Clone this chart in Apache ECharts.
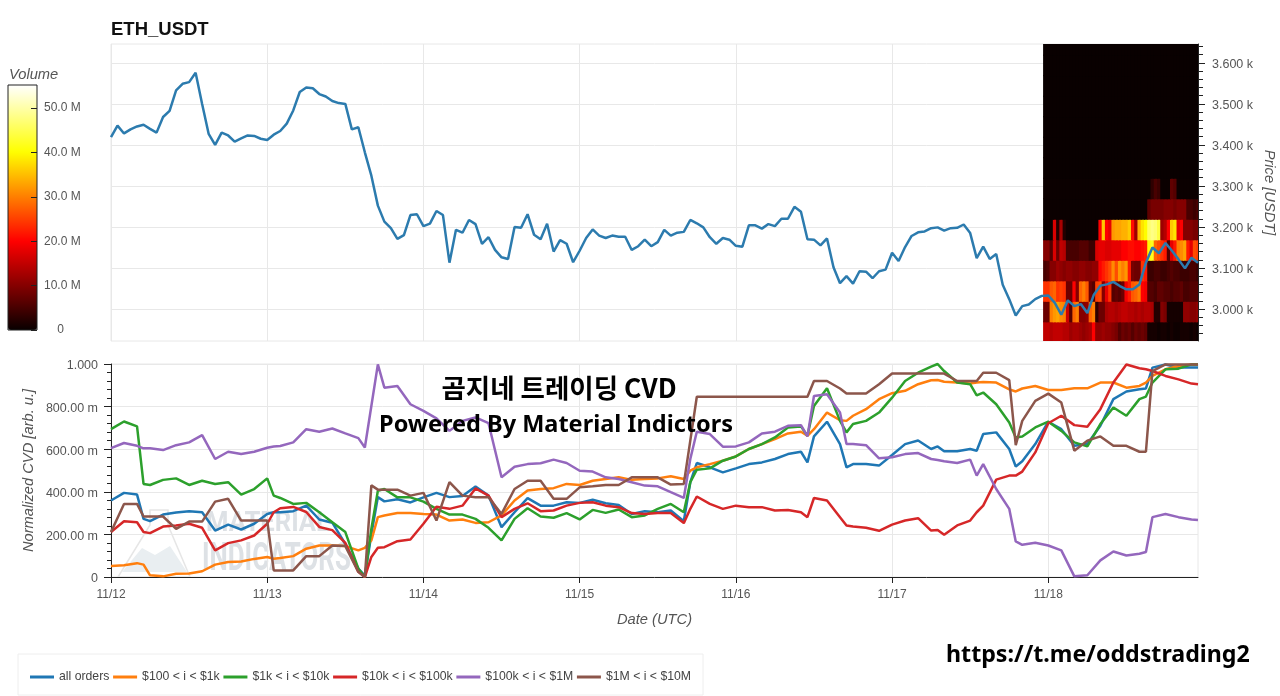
<!DOCTYPE html>
<html><head><meta charset="utf-8">
<style>html,body{margin:0;padding:0;background:#fff}#c{width:1280px;height:696px}</style>
<script src="https://cdn.jsdelivr.net/npm/echarts@6/dist/echarts.min.js"></script>
</head><body><div id="c"></div>
<script>
const dayLabels = ['11/12','11/13','11/14','11/15','11/16','11/17','11/18'];
const dayTicks = [0,24,48,72,96,120,144];
const priceMajor = [3000,3100,3200,3300,3400,3500,3600];
const priceMinor = [2940,2960,2980,3020,3040,3060,3080,3120,3140,3160,3180,3220,3240,3260,3280,3320,3340,3360,3380,3420,3440,3460,3480,3520,3540,3560,3580,3620,3640];
const volumeTicks = [0,10,20,30,40,50];
const hotColors = ['#080000','#480000','#850000','#c20000','#ff0000','#ff4000','#ff8000','#ffbf00','#ffff00','#ffff55','#ffffaa','#ffffff'];
const lineColors = ['#1f77b4','#ff7f0e','#2ca02c','#d62728','#9467bd','#8c564b'];
const seriesNames = ['all orders','$100 < i < $1k','$1k < i < $10k','$10k < i < $100k','$100k < i < $1M','$1M < i < $10M'];

// hourly price, from 11/12 00:00
const price = [
3419,3447,3428,3438,3445,3449,3439,3430,3468,3483,3533,3549,3553,3576,3500,3427,3400,3430,3423,3408,3416,3423,3422,3415,
3412,3425,3434,3452,3484,3529,3540,3538,3524,3518,3507,3502,3500,3438,3443,3382,3325,3252,3213,3197,3171,3180,3229,3231,
3202,3208,3239,3229,3113,3193,3186,3217,3207,3159,3175,3144,3126,3122,3200,3198,3231,3181,3170,3208,3140,3168,3159,3114,
3142,3173,3194,3179,3173,3179,3176,3176,3144,3153,3169,3153,3163,3193,3179,3186,3188,3217,3209,3199,3175,3159,3173,3169,
3154,3152,3204,3204,3196,3207,3202,3220,3220,3249,3237,3170,3169,3155,3172,3102,3063,3080,3062,3092,3091,3075,3092,3096,
3137,3117,3151,3178,3187,3189,3197,3199,3191,3197,3198,3206,3185,3124,3152,3122,3134,3059,3024,2984,3007,3011,3024,3032,
3033,3015,2986,3021,3007,3012,2990,3035,3057,3060,3066,3056,3048,3048,3060,3113,3150,3136,3161,3142,3121,3099,3125,3113];

// hours at which CVD was read
const cvdHours = [
0,2,4,5,6,8,10,12,14,16,18,20,22,
24,25,26,28,30,32,34,36,38,39,40,41,42,44,46,
48,50,52,54,56,58,60,62,64,66,68,70,
72,74,76,78,80,82,84,86,88,89,90,92,94,
96,98,100,102,104,106,107,108,110,112,113,114,116,118,
120,122,124,126,127,128,130,132,133,134,136,138,139,140,142,
144,146,148,150,152,154,156,158,159,160,162,164,166,167];

const cvdAll = [
359,395,387,273,262,293,303,309,304,218,246,223,250,
296,304,304,309,335,270,255,155,40,5,200,375,355,365,350,
374,395,375,380,425,382,234,304,370,335,335,351,
348,363,346,338,296,309,304,312,262,445,535,515,491,
510,530,538,554,577,588,538,660,729,624,515,530,530,523,
573,624,641,601,613,590,590,601,593,671,679,601,519,543,624,
729,694,616,624,710,835,871,881,885,983,998,983,983,983];
const cvd100 = [
52,55,65,58,8,3,15,16,27,58,70,73,85,
94,86,89,98,133,148,148,145,125,137,172,281,289,300,301,
296,293,265,270,254,257,289,359,406,413,417,437,
432,452,460,468,456,460,463,473,460,499,515,530,546,
566,601,624,647,674,682,663,694,772,736,733,757,788,835,
863,874,905,924,925,917,913,908,913,916,913,881,871,885,897,
878,878,886,886,913,913,889,897,913,944,975,991,998,998];
const cvd1k = [
694,730,707,437,432,456,463,432,452,437,445,387,413,
463,382,371,343,348,304,257,211,39,0,226,405,413,374,374,
354,320,293,293,273,231,172,273,323,284,278,300,
270,315,301,317,281,289,320,343,304,445,504,510,546,
566,601,624,655,702,707,663,803,886,733,679,718,733,772,
842,920,959,988,1000,967,913,905,853,866,811,725,655,660,702,
729,686,632,613,718,796,757,835,847,913,975,978,998,998];
const cvd10k = [
211,262,257,211,206,237,242,250,231,125,159,172,195,
250,304,323,329,305,235,220,160,24,0,94,137,140,168,176,
250,330,320,335,416,382,281,320,346,309,312,335,
348,351,335,328,300,296,301,300,253,320,378,343,320,
335,328,328,312,315,304,281,371,359,281,242,237,231,217,
246,265,276,218,221,198,242,265,304,335,457,476,476,495,585,
722,757,713,705,788,913,998,980,975,967,944,928,908,905];
const cvd100k = [
605,629,616,604,604,596,619,632,666,554,588,577,588,
607,613,615,632,694,682,697,674,652,608,803,998,889,897,811,
780,745,686,733,749,722,468,518,530,534,551,535,
499,495,468,460,445,429,426,398,371,554,682,671,612,
613,632,674,682,710,713,660,850,858,772,624,624,619,557,
562,577,582,554,549,543,535,551,476,530,413,320,167,151,161,
148,125,3,8,78,120,101,109,117,281,296,281,270,268];
const cvd1M = [
211,343,343,284,284,284,226,260,260,354,367,265,265,
265,31,31,31,98,98,148,145,24,0,430,410,410,410,382,
395,265,445,382,374,374,296,413,452,452,367,367,
421,426,432,432,468,468,468,434,437,640,846,846,846,
846,846,846,846,846,846,846,920,920,885,861,861,861,905,
955,955,955,955,955,955,920,920,920,959,959,924,619,733,827,
861,819,593,640,660,616,616,588,588,967,998,998,998,998];

// volume profile in millions: one list per 50 USDT band, 48 half-hour columns
const heatStart = 143.2, heatStep = 0.5, heatBand = 50;
const heatLows = [2920,2970,3020,3070,3120,3170,3220,3270,3320,3370,3420,3470,3520,3570,3620];
const heat2920 = [15,15,14,15,15,15,14,14,12,13,13,12,11,12,13,20,11,11,12,11,11,10,9,6,8,7,8,6,8,7,8,7,1,1,1,.5,1,1,.5,1,.5,.5,1,1,1,.5,1,.5];
const heat2970 = [8,8,30,32,33,31,30,16,6,28,30,10,10,11,28,30,3,8,8,13,14,14,13,14,15,15,14,14,13,14,13,14,14,13,2,2,10,9,1,1,1,1,1,11,11,10,10,11];
const heat3020 = [24,24,27,28,24,25,24,8,8,20,10,28,30,27,8,6,25,26,10,18,24,6,7,6,8,19,22,27,28,30,20,19,6,6,5,7,7,6,6,5,6,6,7,5,5,6,6,6];
const heat3070 = [5,6,10,10,12,11,10,11,11,10,10,11,11,10,10,11,11,20,22,24,26,31,26,32,30,32,22,9,8,8,24,22,4,4,5,5,4,4,5,6,5,5,4,4,4,5,5,4];
const heat3120 = [10,10,6,17,8,15,14,5,5,5,5,6,6,6,4,4,17,18,18,17,17,18,18,18,20,20,21,21,20,20,21,22,40,42,28,26,24,22,6,18,22,30,31,33,22,18,26,25];
const heat3170 = [.3,.3,.3,17,2,13,2,.3,.3,.3,.3,.3,.3,.3,.3,.3,.3,20,36,20,18,32,33,33,34,34,36,21,12,34,38,40,46,48,47,44,12,14,20,36,38,18,20,10,10,10,9,9];
const heat3220 = [.2,.2,.2,.2,.2,.2,.2,.2,.2,.2,.2,.2,.2,.2,.2,.2,.2,.2,.2,.2,.2,.2,.2,.2,.2,.2,.2,.2,.2,.2,.2,.2,7,9,9,9,9,10,10,10,9,10,10,10,5,5,4,5];
const heat3270 = [.2,.2,.2,.2,.2,.2,.2,.2,.2,.2,.2,.2,.2,.2,.2,.2,.2,.2,.2,.2,.2,.2,.2,.2,.2,.2,.2,.2,.2,.2,.2,.2,.2,3,5,4,.2,.2,.2,7,6,.2,.2,.2,.2,.2,.2,.2];
const heatQuiet = [0.1,0.1,0.1,0.1,0.1,0.1,0.1,0.1,0.1,0.1,0.1,0.1,0.1,0.1,0.1,0.1,0.1,0.1,0.1,0.1,0.1,0.1,0.1,0.1,0.1,0.1,0.1,0.1,0.1,0.1,0.1,0.1,0.1,0.1,0.1,0.1,0.1,0.1,0.1,0.1,0.1,0.1,0.1,0.1,0.1,0.1,0.1,0.1];
const heatRows = [heat2920,heat2970,heat3020,heat3070,heat3120,heat3170,heat3220,heat3270,heatQuiet,heatQuiet,heatQuiet,heatQuiet,heatQuiet,heatQuiet,heatQuiet];

const FONT = '"Liberation Sans", Arial, sans-serif';
const GREY = '#555';
const GRID = '#e8e8e8';
const heatData = [];
heatRows.forEach((row, r) => row.forEach((v, c) => heatData.push([heatStart + c * heatStep, heatLows[r], v])));

const cvdLists = [cvdAll, cvd100, cvd1k, cvd10k, cvd100k, cvd1M];
const cvdSeries = cvdLists.map((list, i) => ({
  name: seriesNames[i], type: 'line', xAxisIndex: 1, yAxisIndex: 2, showSymbol: false, symbol: 'none',
  data: list.map((v, k) => [cvdHours[k], v]), lineStyle: {color: lineColors[i], width: 2.5},
  itemStyle: {color: lineColors[i]}, z: 3 + i, animation: false, clip: false
}));

const chart = echarts.init(document.getElementById('c'), null, {renderer: 'canvas'});
chart.setOption({
  animation: false,
  backgroundColor: '#fff',
  textStyle: {fontFamily: FONT},
  grid: [
    {left: 111, width: 1087, top: 44, height: 297, show: true, borderColor: GRID, borderWidth: 1, backgroundColor: 'transparent', outerBoundsMode: 'none'},
    {left: 111, width: 1087, top: 364, height: 213, show: true, borderColor: GRID, borderWidth: 1, backgroundColor: 'transparent', outerBoundsMode: 'none'},
    {left: 8, width: 29, top: 85, height: 245, show: true, borderColor: '#222', borderWidth: 1, backgroundColor: 'transparent', z: 10, outerBoundsMode: 'none'}
  ],
  visualMap: {
    type: 'continuous', seriesIndex: 0, dimension: 2, min: 0, max: 55.2, calculable: false, realtime: false,
    left: 8, top: 85, itemWidth: 29, itemHeight: 245, padding: 0, text: null, showLabel: false,
    inRange: {color: hotColors}, textStyle: {color: 'transparent', fontSize: 1}
  },
  xAxis: [
    {gridIndex: 0, type: 'value', min: 0, max: 167, interval: 24, axisLine: {show: false},
     axisTick: {show: false, customValues: dayTicks}, axisLabel: {show: false, customValues: dayTicks},
     splitLine: {show: true, lineStyle: {color: GRID}}},
    {gridIndex: 1, type: 'value', min: 0, max: 167, interval: 24,
     name: 'Date (UTC)', nameLocation: 'middle', nameGap: 35,
     nameTextStyle: {fontStyle: 'italic', fontSize: 14.7, color: GREY, fontFamily: FONT},
     axisLine: {show: true, onZero: false, lineStyle: {color: '#222', width: 1}},
     axisTick: {show: true, length: 6, customValues: dayTicks, lineStyle: {color: '#222'}},
     axisLabel: {customValues: dayTicks, color: GREY, fontSize: 12, margin: 12, formatter: v => dayLabels[dayTicks.indexOf(v)] || ''},
     splitLine: {show: true, lineStyle: {color: GRID}}},
    {gridIndex: 2, type: 'value', min: 0, max: 1, show: false}
  ],
  yAxis: [
    {gridIndex: 0, type: 'value', position: 'right', min: 2922, max: 3646, interval: 100,
     name: 'Price [USDT]', nameLocation: 'middle', nameRotate: -90, nameGap: 64, nameMoveOverlap: false,
     nameTextStyle: {fontStyle: 'italic', fontSize: 14.7, color: GREY, fontFamily: FONT},
     axisLine: {show: true, onZero: false, lineStyle: {color: '#222'}},
     axisTick: {show: true, length: 7, customValues: priceMajor, lineStyle: {color: '#222'}},
     axisLabel: {customValues: priceMajor, color: GREY, fontSize: 12.5, margin: 14, verticalAlign: 'top', lineHeight: 4, formatter: v => (v / 1000).toFixed(3) + ' k'},
     splitLine: {show: true, lineStyle: {color: GRID}}},
    {gridIndex: 0, type: 'value', position: 'left', offset: -1087, min: 2922, max: 3646, interval: 100,
     axisLine: {show: false, onZero: false}, splitLine: {show: false},
     axisTick: {show: true, inside: true, length: 5, customValues: priceMinor, lineStyle: {color: '#222'}},
     axisLabel: {show: false, customValues: priceMinor}},
    {gridIndex: 1, type: 'value', position: 'left', min: 0, max: 1000, interval: 200,
     name: 'Normalized CVD [arb. u.]', nameLocation: 'middle', nameRotate: 90, nameGap: 75, nameMoveOverlap: false,
     nameTextStyle: {fontStyle: 'italic', fontSize: 14.7, color: GREY, fontFamily: FONT},
     axisLine: {show: true, onZero: false, lineStyle: {color: '#222'}},
     axisTick: {show: true, length: 7, lineStyle: {color: '#222'}},
     minorTick: {show: true, splitNumber: 5, length: 4, lineStyle: {color: '#222'}},
     axisLabel: {color: GREY, fontSize: 12.5, margin: 13, verticalAlign: 'top', lineHeight: 4, formatter: v => v === 0 ? '0' : v === 1000 ? '1.000' : v.toFixed(2) + ' m'},
     splitLine: {show: true, lineStyle: {color: GRID}}},
    {gridIndex: 2, type: 'value', position: 'right', min: 0, max: 55.2, z: 10,
     axisLine: {show: false, onZero: false}, splitLine: {show: false},
     axisTick: {show: true, inside: true, length: 6, customValues: volumeTicks, lineStyle: {color: '#222'}},
     axisLabel: {customValues: volumeTicks, color: GREY, fontSize: 12, margin: 7, formatter: v => v === 0 ? '    0' : v.toFixed(1) + ' M'}}
  ],
  title: [
    {text: 'ETH_USDT', left: 111, top: 20, padding: 0, textStyle: {fontSize: 18.5, fontWeight: 'bold', color: '#111', fontFamily: FONT}},
    {text: 'Volume', left: 9, top: 67, padding: 0, textStyle: {fontSize: 14.7, fontWeight: 'normal', fontStyle: 'italic', color: GREY, fontFamily: FONT}}
  ],
  legend: {
    left: 18, top: 654, padding: [17, 12, 12, 12], itemGap: 3.7, itemWidth: 24, itemHeight: 3, icon: 'rect',
    borderColor: '#eee', borderWidth: 1,
    data: seriesNames, textStyle: {fontSize: 12.25, color: '#444', fontFamily: FONT}
  },
  graphic: [
    {type: 'polygon', silent: true, z: 0, shape: {points: [[150,510],[168,510],[168,525],[190,577],[118,577],[150,525]]}, style: {fill: 'none', stroke: '#e6e6e6', lineWidth: 1.5}},
    {type: 'polygon', silent: true, z: 0, shape: {points: [[122,572],[142,548],[155,555],[170,546],[187,572]]}, style: {fill: '#e9eef1'}},
    {type: 'text', silent: true, z: 0, x: 206, y: 511, scaleX: 0.95, style: {text: 'MATERIAL', font: 'bold 27px Roboto', fill: '#dde1e5'}},
    {type: 'text', silent: true, z: 0, x: 202, y: 541, scaleX: 0.68, style: {text: 'INDICATORS', font: 'bold 38px Roboto', fill: '#dde1e5'}},
    {type: 'text', silent: true, z: 100, style: {x: 559, y: 375, text: '곰지네 트레이딩 CVD', textAlign: 'center', font: 'bold 26.5px "Noto Sans CJK KR"', fill: '#000'}},
    {type: 'text', silent: true, z: 100, style: {x: 556, y: 413, text: 'Powered By Material Indictors', textAlign: 'center', font: 'bold 23.5px "Noto Sans"', fill: '#000'}},
    {type: 'text', silent: true, z: 100, style: {x: 946, y: 644, text: 'https://t.me/oddstrading2', font: 'bold 23.2px "Noto Sans"', fill: '#000'}}
  ],
  series: [
    {type: 'custom', name: 'Volume', xAxisIndex: 0, yAxisIndex: 0, data: heatData, encode: {x: 0, y: 1}, z: 2, animation: false,
     renderItem: (params, api) => {
       const a = api.coord([api.value(0), api.value(1)]);
       const b = api.coord([api.value(0) + heatStep, api.value(1) + heatBand]);
       const shape = echarts.graphic.clipRectByRect(
         {x: a[0], y: b[1], width: b[0] - a[0] + 1, height: a[1] - b[1] + 1},
         {x: params.coordSys.x, y: params.coordSys.y, width: params.coordSys.width, height: params.coordSys.height});
       return shape && {type: 'rect', shape, style: {fill: api.visual('color'), stroke: null}};
     }},
    {type: 'line', name: 'Price', xAxisIndex: 0, yAxisIndex: 0, data: price.map((v, h) => [h, v]), showSymbol: false, symbol: 'none',
     lineStyle: {color: '#2c7bae', width: 2.5}, itemStyle: {color: '#2c7bae'}, z: 5, animation: false},
    ...cvdSeries
  ]
});
</script></body></html>
